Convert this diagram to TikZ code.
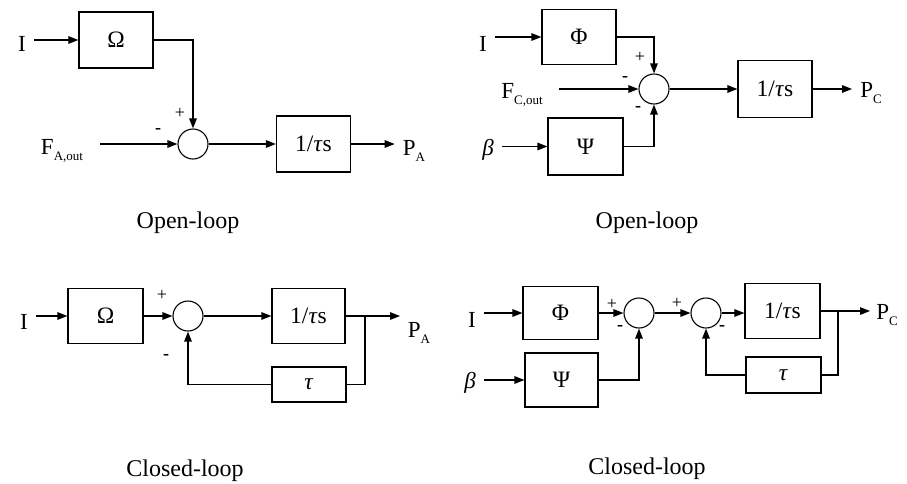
\documentclass[tikz,border=0pt]{standalone}
\usepackage{fontspec}
\setmainfont{Liberation Serif}
\usetikzlibrary{arrows.meta}
\newcommand\mysub[1]{\raisebox{-0.28em}{\fontsize{13}{13}\selectfont #1}}
\begin{document}
\begin{tikzpicture}[x=1pt,y=-1pt,
  blk/.style={draw,line width=1.1pt,minimum width=74pt,minimum height=56pt,inner sep=0pt,font=\fontsize{23.5}{25}\selectfont},
  fbk/.style={draw,line width=1.1pt,minimum width=74pt,minimum height=35pt,inner sep=0pt,font=\fontsize{23.5}{25}\selectfont},
  sumj/.style={draw,circle,line width=1.1pt,minimum size=30pt,inner sep=0pt},
  lbl/.style={inner xsep=8pt,inner ysep=1pt,font=\fontsize{23}{25}\selectfont},
  sgn/.style={inner sep=0pt,font=\fontsize{18}{18}\selectfont},
  capt/.style={inner sep=0pt,font=\fontsize{24}{26}\selectfont},
  arr/.style={line width=1.3pt,-{Triangle[length=10pt,width=7.5pt]}},
  ln/.style={line width=1.3pt}]
\useasboundingbox (0,0) rectangle (907,483);

% ---------- top-left: open loop A ----------
\node[lbl] (iA) at (22,44) {I};
\node[blk] (omA) at (116,40) {Ω};
\node[sumj] (sA) at (193,144) {};
\node[lbl] (fA) at (62,151) {F\mysub{A,out}};
\node[blk] (tA) at (313.5,144) {1/\textit{τ}s};
\node[lbl] (pA) at (414,151) {P\mysub{A}};
\draw[arr] (iA.east |- omA.west) -- (omA.west);
\draw[arr] (omA.east) -| (sA.north);
\draw[arr] ([xshift=9pt]fA.east |- sA.west) -- (sA.west);
\draw[arr] (sA.east) -- (tA.west);
\draw[arr] (tA.east) -- (pA.west |- tA.east);
\node[sgn] (pl1) at (180,113) {+};
\node[sgn] (mi1) at (158,131) {\textbf{-}};

% ---------- top-right: open loop C ----------
\node[lbl] (iC) at (483,44) {I};
\node[blk,minimum height=55pt] (phC) at (579,37) {Φ};
\node[sumj] (sC) at (654,89) {};
\node[lbl] (fC) at (522,95) {F\mysub{C,out}};
\node[blk,minimum width=75pt,minimum height=57pt] (psC) at (585.5,146.5) {Ψ};
\node[lbl] (bC) at (488,150) {\textit{β}};
\node[blk,minimum height=57pt] (tC) at (775,89) {1/\textit{τ}s};
\node[lbl] (pC) at (871,93) {P\mysub{C}};
\draw[arr] (iC.east |- phC.west) -- (phC.west);
\draw[arr] (phC.east) -| (sC.north);
\draw[arr] ([xshift=8pt]fC.east |- sC.west) -- (sC.west);
\draw[arr] (bC.east |- psC.west) -- (psC.west);
\draw[arr] (psC.east) -| (sC.south);
\draw[arr] (sC.east) -- (tC.west);
\draw[arr] (tC.east) -- (pC.west |- tC.east);
\node[sgn] (pl2) at (640,57) {+};
\node[sgn] (mi2) at (625,79) {\textbf{-}};
\node[sgn] (mi3) at (638,109) {\textbf{-}};

\node[capt] (cap1) at (188,223) {Open-loop};
\node[capt] (cap2) at (647,223) {Open-loop};

% ---------- bottom-left: closed loop A ----------
\node[lbl] (iA2) at (24,322) {I};
\node[blk,minimum width=75pt,minimum height=55pt] (omA2) at (105.5,316) {Ω};
\node[sumj] (sA2) at (188,316) {};
\node[blk,minimum width=73pt,minimum height=55pt] (tA2) at (308.5,316) {1/\textit{τ}s};
\node[fbk] (tauA) at (309,384.5) {\textit{τ}};
\coordinate (brA) at (365,316);
\coordinate (oA) at (400,316);
\node[lbl] (pA2) at (419,333) {P\mysub{A}};
\draw[arr] (iA2.east |- omA2.west) -- (omA2.west);
\draw[arr] (omA2.east) -- (sA2.west);
\draw[arr] (sA2.east) -- (tA2.west);
\draw[arr] (tA2.east) -- (oA);
\draw[ln] (brA) |- (tauA.east);
\draw[arr] (tauA.west) -| (sA2.south);
\node[sgn] (pl4) at (162,295) {+};
\node[sgn] (mi4) at (166,357) {\textbf{-}};

% ---------- bottom-right: closed loop C ----------
\node[lbl] (iC2) at (472,320) {I};
\node[blk,minimum width=75pt,minimum height=53pt] (phC2) at (560.5,313) {Φ};
\node[sumj] (sC1) at (639,313) {};
\node[blk,minimum width=73pt,minimum height=54pt] (psC2) at (561.5,380) {Ψ};
\node[lbl] (bC2) at (470,383) {\textit{β}};
\node[sumj] (sC2) at (706,313) {};
\node[blk,minimum width=75pt,minimum height=55pt] (tC2) at (782.5,311) {1/\textit{τ}s};
\node[fbk,minimum width=75pt,minimum height=36pt] (tauC) at (783.5,375) {\textit{τ}};
\coordinate (brC) at (838,311);
\coordinate (oC) at (870,311);
\node[lbl] (pC2) at (887,315) {P\mysub{C}};
\draw[arr] (iC2.east |- phC2.west) -- (phC2.west);
\draw[arr] (phC2.east) -- (sC1.west);
\draw[arr] (bC2.east |- psC2.west) -- (psC2.west);
\draw[arr] (psC2.east) -| (sC1.south);
\draw[arr] (sC1.east) -- (sC2.west);
\draw[arr] (sC2.east) -- (sC2.east -| tC2.west);
\draw[arr] (tC2.east) -- (oC);
\draw[ln] (brC) |- (tauC.east);
\draw[arr] (tauC.west) -| (sC2.south);
\node[sgn] (pl5) at (612,304) {+};
\node[sgn] (mi5) at (620,328) {\textbf{-}};
\node[sgn] (pl6) at (677,303) {+};
\node[sgn] (mi6) at (722,328) {\textbf{-}};

\node[capt] (cap3) at (185,471) {Closed-loop};
\node[capt] (cap4) at (647,469) {Closed-loop};
\end{tikzpicture}
\end{document}
